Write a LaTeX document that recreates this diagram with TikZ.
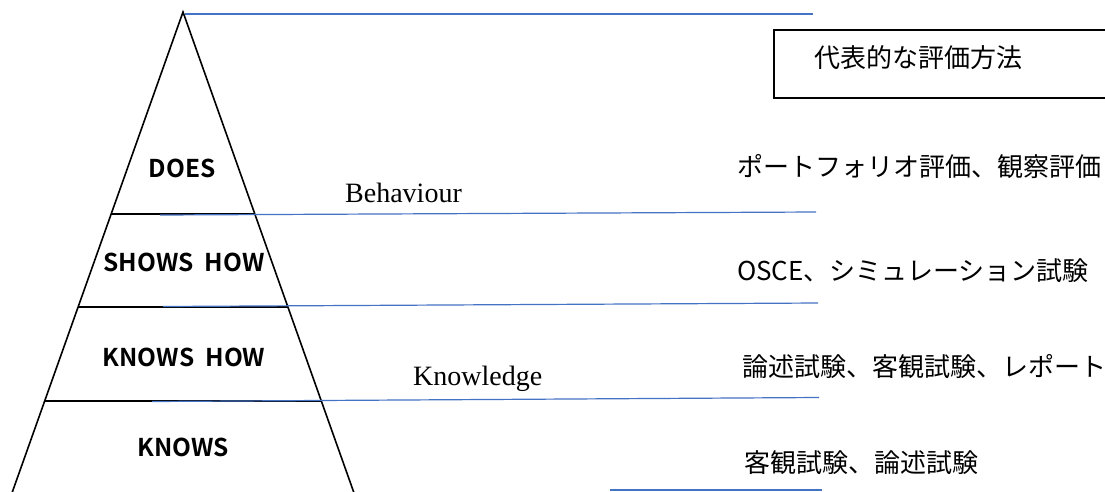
\documentclass[tikz,border=0pt]{standalone}
\usepackage{fontspec}
\setmainfont{Liberation Serif}
\newfontfamily\cjk{Noto Sans CJK JP}
\newfontfamily\lab{Noto Sans CJK JP}[BoldFont={* Bold}]
\definecolor{lblue}{HTML}{4472C4}
\begin{document}
\begin{tikzpicture}[x=1pt,y=-1pt,
  level/.style={font=\lab\bfseries\fontsize{24.5}{24.5}\selectfont, inner sep=0pt},
  ser/.style={font=\fontsize{28}{28}\selectfont, inner sep=0pt, anchor=base west},
  jp/.style={font=\cjk\fontsize{26}{26}\selectfont, anchor=west, inner sep=0pt},
  guide/.style={draw=lblue, line width=1.2pt},
  edge/.style={draw=black, line width=1.6pt}]
\clip (0,0) rectangle (1105,491);
\fill[white] (0,0) rectangle (1105,491);
% pyramid
\coordinate (apex) at (183,12);
\coordinate (bl) at (7.7,505);
\coordinate (br) at (358.3,505);
\draw[edge, line join=miter] (bl) -- (apex) -- (br);
\coordinate (l1) at (111.2,214); \coordinate (r1) at (254.8,214);
\coordinate (l2) at (78.1,307);  \coordinate (r2) at (287.9,307);
\coordinate (l3) at (44.7,401);  \coordinate (r3) at (321.3,401);
\draw[edge] (l1) -- (r1);
\draw[edge] (l2) -- (r2);
\draw[edge] (l3) -- (r3);
% blue guide lines
\coordinate (g0a) at (185,14);    \coordinate (g0b) at (813,14);
\coordinate (g1a) at (160,215);   \coordinate (g1b) at (816,212);
\coordinate (g2a) at (163,306.5); \coordinate (g2b) at (818,303);
\coordinate (g3a) at (152,401.5); \coordinate (g3b) at (819,397.5);
\coordinate (g4a) at (610,490);   \coordinate (g4b) at (822,490);
\draw[guide] (g0a) -- (g0b);
\draw[guide] (g1a) -- (g1b);
\draw[guide] (g2a) -- (g2b);
\draw[guide] (g3a) -- (g3b);
\draw[guide] (g4a) -- (g4b);
% level labels
\node[level] (does) at (182,168) {DOES};
\node[level] (shows) at (184,262) {SHOWS\ \ HOW};
\node[level] (knowshow) at (184,357) {KNOWS\ \ HOW};
\node[level] (knows) at (183,447) {KNOWS};
% side labels
\node[ser] (beh) at (345,202) {Behaviour};
\node[ser] (know) at (413,385) {Knowledge};
% header box
\draw[black, line width=1.3pt] (774,30) rectangle (1115,98);
\node[jp] (head) at (814,57.5) {代表的な評価方法};
% methods
\node[jp] (m1) at (737,167) {ポートフォリオ評価、観察評価};
\node[jp] (m2) at (737,271) {OSCE、シミュレーション試験};
\node[jp] (m3) at (742,367) {論述試験、客観試験、レポート};
\node[jp] (m4) at (744,463) {客観試験、論述試験};
\end{tikzpicture}
\end{document}
